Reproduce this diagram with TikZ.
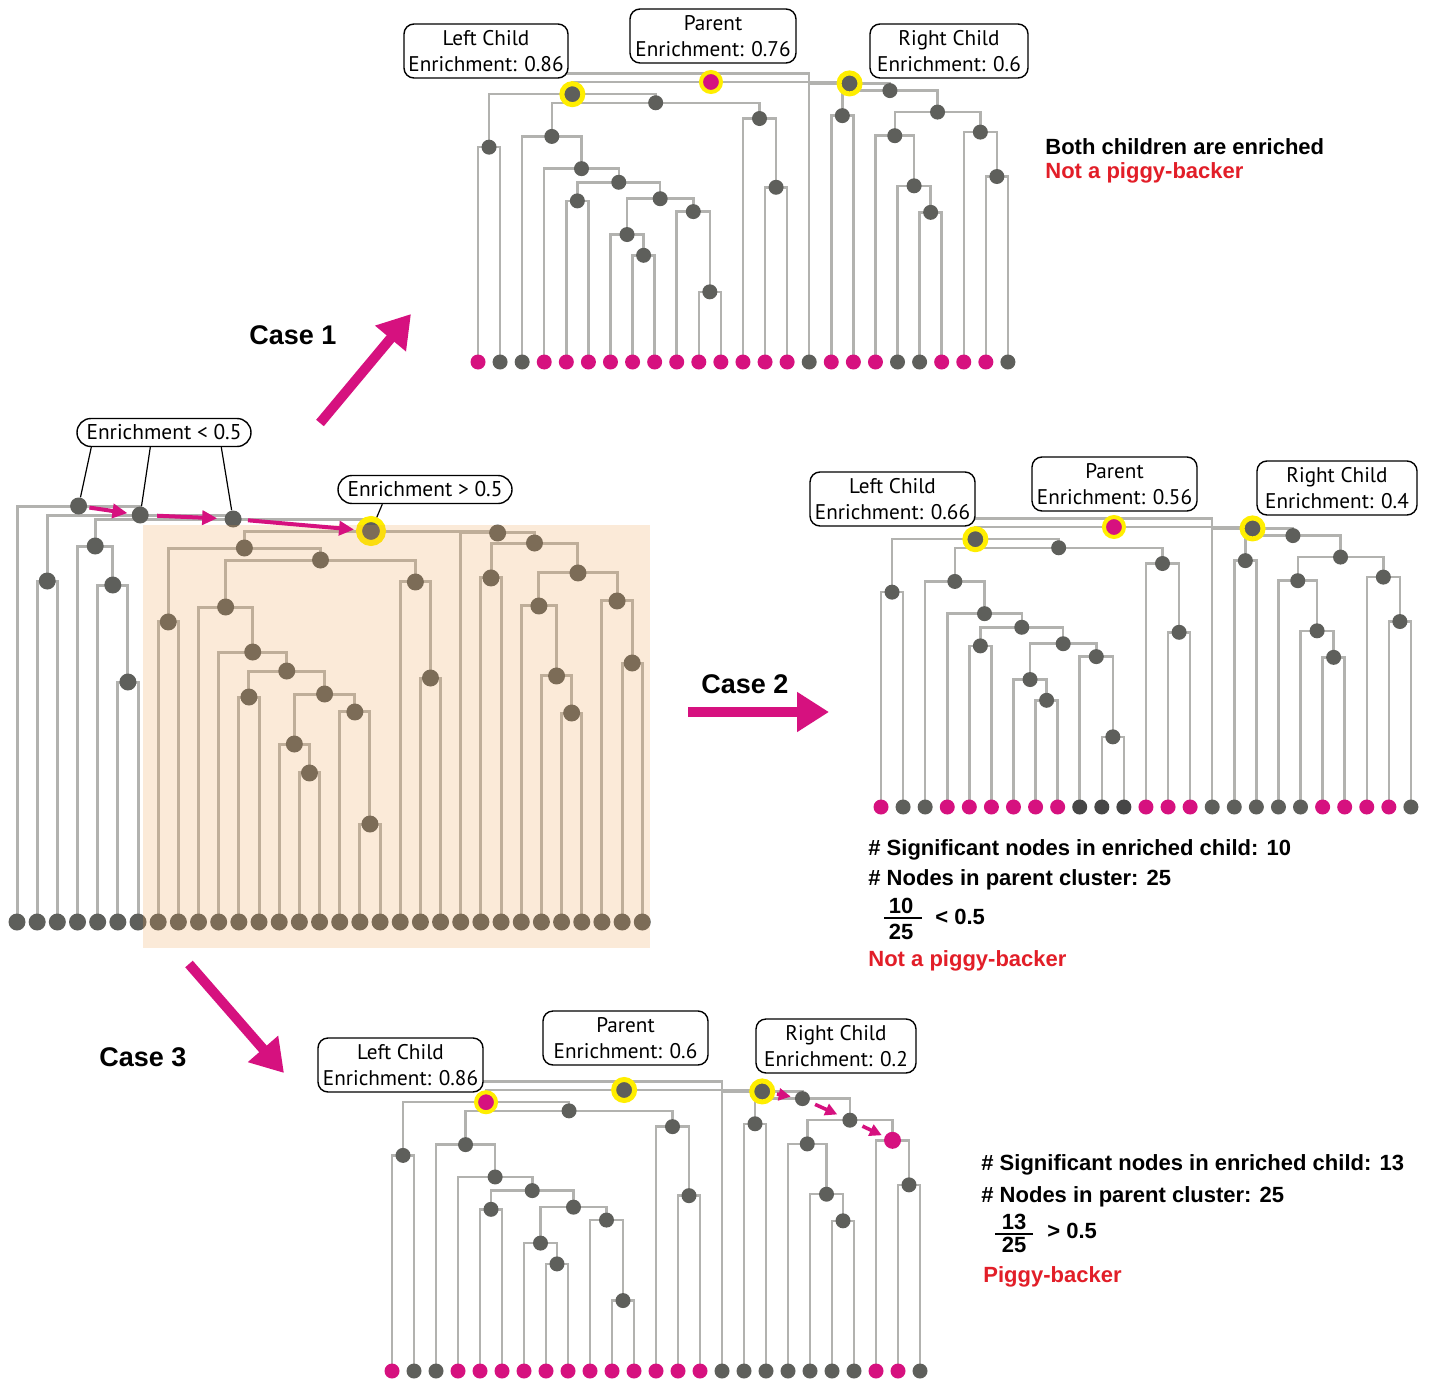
\documentclass[tikz,border=0pt]{standalone}
\usepackage{fontspec}
\setmainfont{PT Sans}
\newfontfamily\helv{Liberation Sans}
\usetikzlibrary{arrows.meta}
\definecolor{linegrey}{RGB}{178,178,175}
\definecolor{colg}{RGB}{94,95,91}
\definecolor{colk}{RGB}{70,70,70}
\definecolor{colm}{RGB}{214,17,127}
\definecolor{ringy}{RGB}{255,238,0}
\definecolor{redtxt}{RGB}{226,30,40}
\definecolor{overlaycol}{RGB}{240,160,74}
\newcommand\dotsz{7.5pt}
\newcommand\brw{1.25pt}
\tikzset{
  branch/.style={draw=linegrey, line width=\brw},
  dot/.style={circle, fill=colg, inner sep=0pt, minimum size=\dotsz},
  ringed/.style={circle, draw=ringy, line width=2.5pt, inner sep=0pt, minimum size=10.5pt},
  lbl/.style={draw=black, line width=0.7pt, rounded corners=5pt, fill=white, align=center,
    font=\fontsize{10.6}{13}\selectfont, inner sep=0pt, minimum height=27pt},
  pill/.style={draw=black, line width=0.7pt, rounded corners=7pt, fill=white,
    font=\fontsize{10.7}{13}\selectfont, inner sep=0pt, minimum width=87pt, minimum height=14pt},
  pointer/.style={draw=black, line width=0.6pt},
  anno/.style={font=\helv\bfseries\fontsize{11}{13}\selectfont, anchor=west, inner sep=0pt},
  caselab/.style={font=\helv\bfseries\fontsize{13.5}{16}\selectfont, inner sep=0pt},
  bigarrow/.style={draw=colm, line width=5pt, -{Triangle[length=16pt,width=19pt]}},
  smallarrow/.style={draw=colm, line width=2pt, -{Triangle[length=7.5pt,width=7pt]}},
  tinyarrow/.style={draw=colm, line width=1.8pt, -{Triangle[length=6pt,width=6pt]}},
}
% #1 prefix, #2 x of leaf 0, #3 leaf spacing, #4 y of root, #5 root-to-leaf height
\newcommand\subtree[5]{%
  \begin{scope}[shift={(#2,#4)},xscale=#3,yscale=#5]
    \foreach \nn/\xu/\yt in {R/10.55078125/0, G/4.2734375/0.0435, g1/0.5/0.2327,
      g2/8.046875/0.0742, g3/3.34375/0.1944, g4/12.75/0.1304, g5/4.6875/0.3095,
      g6/6.375/0.3581, g7/4.5/0.4246, g8/8.25/0.4169, g9/6.75/0.5448, g11/7.5/0.6189,
      g10/9.75/0.4629, g12/10.5/0.7494, g13/13.5/0.3760, H/16.828125/0.0051,
      I/18.65625/0.0307, J/16.5/0.1202, K/20.8125/0.1074, L/18.875/0.1918,
      N/19.75/0.3708, N2/20.5/0.4655, M/22.75/0.1790, M2/23.5/0.3376}
      \coordinate (#1\nn) at (\xu,\yt);
    \foreach \i in {0,...,24} \coordinate (#1l\i) at (\i,1);
    \coordinate (#1T) at (3.97,-0.0307);
    \coordinate (#1U) at (15,-0.0307);
  \end{scope}
  \foreach \pp/\aa/\bb in {R/G/H, G/g1/g2, g1/l0/l1, g2/g3/g4, g3/l2/g5, g5/l3/g6,
    g6/g7/g8, g7/l4/l5, g8/g9/g10, g9/l6/g11, g11/l7/l8, g10/l9/g12, g12/l10/l11,
    g4/l12/g13, g13/l13/l14, H/l15/I, I/J/K, J/l16/l17, K/L/M, L/l18/N, N/l19/N2,
    N2/l20/l21, M/l22/M2, M2/l23/l24}
    \draw[branch] (#1\aa) |- (#1\pp) -| (#1\bb);
}
\newcommand\innerdots[1]{%
  \foreach \nn in {R,G,g1,g2,g3,g4,g5,g6,g7,g8,g9,g10,g11,g12,g13,H,I,J,K,L,N,N2,M,M2}
    \node[dot] (#1d\nn) at (#1\nn) {};
}
\newcommand\leafrow[2]{%
  \foreach \cc [count=\i from 0] in {#2}
    \node[dot, fill=col\cc] (#1n\i) at (#1l\i) {};
}
\begin{document}
\begin{tikzpicture}[x=0.5pt,y=-0.5pt]
\useasboundingbox (0,0) rectangle (1434,1380);
\fill[white] (0,0) rectangle (1434,1380);

% ================= main (left) tree =================
\renewcommand\brw{1.5pt}
\renewcommand\dotsz{8.5pt}
\foreach \i/\xx in {0/17,1/37.17,2/57.34,3/77.51,4/97.68,5/117.85,6/138.02}
  \coordinate (pL\i) at (\xx,922);
\coordinate (pP) at (47.25,581);
\coordinate (pF) at (127.94,682);
\coordinate (pE) at (112.8,585);
\coordinate (pD) at (95.2,546);
\coordinate (pC) at (233.1,519);
\coordinate (pB) at (140.2,515);
\coordinate (pA) at (78.6,506);
\subtree{o}{158.19}{20.17}{531}{391}
\foreach \pp/\aa/\bb in {A/L0/B, B/P/C, P/L1/L2, D/L3/E, E/L4/F, F/L5/L6}
  \draw[branch] (p\aa) |- (p\pp) -| (p\bb);
\draw[branch] (pD) |- (pC) -| (oR);
\innerdots{o}
\leafrow{o}{g,g,g,g,g,g,g,g,g,g,g,g,g,g,g,g,g,g,g,g,g,g,g,g,g}
\foreach \nn in {A,B,C,D,E,F,P}
  \node[dot] (d\nn) at (p\nn) {};
\foreach \i in {0,...,6}
  \node[dot] (dL\i) at (pL\i) {};
\node[circle, draw=ringy, line width=3pt, fill=colg, inner sep=0pt, minimum size=12pt] (oRing) at (oR) {};
\fill[overlaycol, opacity=0.21] (143,525) rectangle (650,948);

\draw[smallarrow, shorten <=1pt, shorten >=2pt] (dA) -- (dB);
\draw[smallarrow, shorten <=4pt, shorten >=3.5pt] (dB) -- (dC);
\draw[smallarrow, shorten <=3pt, shorten >=1pt] (dC) -- (oRing);

\node[pill] (lbox) at (164,432.5) {Enrichment < 0.5};
\node[pill] (gbox) at (425,489.5) {Enrichment > 0.5};
\draw[pointer] (lbox.south west) ++(15,0) -- (dA);
\draw[pointer] (lbox.south west) ++(74,0) -- (dB);
\draw[pointer] (lbox.south west) ++(145,0) -- (dC);
\draw[pointer] (gbox.south west) ++(45,0) -- (oRing);

% ================= Case 1 =================
\renewcommand\brw{1.25pt}
\renewcommand\dotsz{7.5pt}
\subtree{a}{478}{22.08}{82}{280}
\draw[branch] (aT) -- (aU) -- (al15);
\innerdots{a}
\leafrow{a}{m,g,g,m,m,m,m,m,m,m,m,m,m,m,m,g,m,m,m,g,g,m,m,m,g}
\node[ringed, fill=colm, line width=2pt, minimum size=10pt] (aHR) at (aR) {};
\node[ringed, fill=colg] (aHG) at (aG) {};
\node[ringed, fill=colg] (aHH) at (aH) {};
\node[lbl, minimum width=82pt] (aLbox) at (486,51) {Left Child\\Enrichment: 0.86};
\node[lbl, minimum width=83pt] (aPbox) at (713,36) {Parent\\Enrichment: 0.76};
\node[lbl, minimum width=79pt] (aRbox) at (949,51) {Right Child\\Enrichment: 0.6};
\node[anno] (aT1) at (1045,147) {Both children are enriched};
\node[anno, text=redtxt] (aT2) at (1045,173) {Not a piggy-backer};

% ================= Case 2 =================
\subtree{b}{881}{22.08}{527}{280}
\draw[branch] (bT) -- (bU) -- (bl15);
\innerdots{b}
\leafrow{b}{m,g,g,m,m,m,m,m,m,k,k,k,m,m,m,g,g,g,g,g,m,m,m,m,g}
\node[ringed, fill=colm, line width=2pt, minimum size=10pt] (bHR) at (bR) {};
\node[ringed, fill=colg] (bHG) at (bG) {};
\node[ringed, fill=colg] (bHH) at (bH) {};
\node[lbl, minimum width=82.5pt] (bLbox) at (892.5,499) {Left Child\\Enrichment: 0.66};
\node[lbl, minimum width=82.5pt] (bPbox) at (1114.5,484) {Parent\\Enrichment: 0.56};
\node[lbl, minimum width=80pt] (bRbox) at (1337,488) {Right Child\\Enrichment: 0.4};
\node[anno] (bT1) at (868,850) {\# Significant nodes in enriched child: 10};
\node[anno] (bT2) at (868,880) {\# Nodes in parent cluster: 25};
\node[anno, anchor=center] (bNum) at (901,906) {10};
\node[anno, anchor=center] (bDen) at (901,932) {25};
\coordinate (bBarL) at (884,918);
\coordinate (bBarR) at (922,918);
\draw[line width=1pt] (bBarL) -- (bBarR);
\node[anno] (bCmp) at (935,917) {< 0.5};
\node[anno, text=redtxt] (bT3) at (868,961) {Not a piggy-backer};

% ================= Case 3 =================
\subtree{c}{392}{22.0}{1090}{281}
\draw[branch] (cT) -- (cU) -- (cl15);
\innerdots{c}
\leafrow{c}{m,g,g,m,m,m,m,m,m,m,m,m,m,m,m,g,g,g,g,g,g,g,m,m,g}
\node[ringed, fill=colg] (cHR) at (cR) {};
\node[ringed, fill=colm, line width=2pt, minimum size=10pt] (cHG) at (cG) {};
\node[ringed, fill=colg] (cHH) at (cH) {};
\node[dot, fill=colm, minimum size=8.5pt] (cHM) at (cM) {};
\draw[tinyarrow, shorten <=1pt, shorten >=2pt] (cHH) -- (cdI);
\draw[tinyarrow, shorten <=3pt, shorten >=3pt] (cdI) -- (cdK);
\draw[tinyarrow, shorten <=3pt, shorten >=1.5pt] (cdK) -- (cHM);
\node[lbl, minimum width=82.5pt] (cLbox) at (400.5,1065) {Left Child\\Enrichment: 0.86};
\node[lbl, minimum width=82.5pt] (cPbox) at (625.5,1038) {Parent\\Enrichment: 0.6};
\node[lbl, minimum width=80pt] (cRbox) at (836,1046) {Right Child\\Enrichment: 0.2};
\node[anno] (cT1) at (981,1165) {\# Significant nodes in enriched child: 13};
\node[anno] (cT2) at (981,1197) {\# Nodes in parent cluster: 25};
\node[anno, anchor=center] (cNum) at (1014,1222) {13};
\node[anno, anchor=center] (cDen) at (1014,1245) {25};
\coordinate (cBarL) at (995,1234);
\coordinate (cBarR) at (1033,1234);
\draw[line width=1pt] (cBarL) -- (cBarR);
\node[anno] (cCmp) at (1047,1231) {> 0.5};
\node[anno, text=redtxt] (cT3) at (983,1277) {Piggy-backer};

% ================= case arrows and labels =================
\coordinate (k1s) at (320,423);
\coordinate (k1e) at (411,314);
\coordinate (k2s) at (688,712);
\coordinate (k2e) at (829,712);
\coordinate (k3s) at (189,964);
\coordinate (k3e) at (284,1073);
\draw[bigarrow] (k1s) -- (k1e);
\draw[bigarrow] (k2s) -- (k2e);
\draw[bigarrow] (k3s) -- (k3e);
\node[caselab] (case1) at (293,335) {Case 1};
\node[caselab] (case2) at (745,684) {Case 2};
\node[caselab] (case3) at (143,1057) {Case 3};
\end{tikzpicture}
\end{document}
